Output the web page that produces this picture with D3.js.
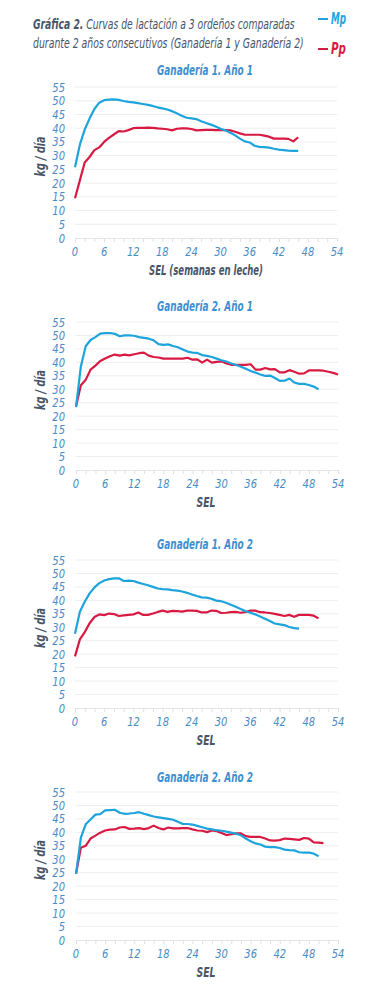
<!DOCTYPE html>
<html>
<head>
<meta charset="utf-8">
<script src="https://cdn.jsdelivr.net/npm/d3@7"></script>
<style>
  body { margin: 0; background: #fff; }
  svg text { font-family: 'DejaVu Sans Condensed', 'Liberation Sans', sans-serif; font-style: italic; }
</style>
</head>
<body>
<svg id="chart" width="376" height="1000"></svg>
<script>
// weekly milk yield (kg/día), week 0 onward
const g1a1Mp = [25.8, 34, 39.5, 43.5, 47, 49.3, 50.2, 50.4, 50.5, 50.3, 49.9, 49.6, 49.4, 49.1, 48.8, 48.5, 48.1, 47.6, 47.2, 46.8, 46.2, 45.4, 44.5, 43.8, 43.6, 43.3, 42.5, 41.9, 41.3, 40.6, 39.8, 39.2, 38.3, 37.4, 36.2, 35.2, 34.8, 33.6, 33.2, 33.1, 32.9, 32.5, 32.2, 32.0, 31.8, 31.7, 31.7];
const g1a1Pp = [14.5, 21, 27.5, 29.5, 32, 33, 35, 36.5, 37.7, 38.9, 38.8, 39.3, 40, 40.1, 40.1, 40.2, 40.1, 39.9, 39.8, 39.6, 39.2, 39.8, 39.9, 39.9, 39.7, 39.2, 39.3, 39.4, 39.4, 39.3, 39.3, 39.3, 39.2, 38.7, 38.1, 37.6, 37.6, 37.6, 37.6, 37.3, 36.9, 36.2, 36.2, 36.2, 36.1, 35.2, 36.7];

const g2a1Mp = [23.4, 38.5, 46, 48.3, 49.4, 50.7, 50.9, 50.9, 50.6, 49.7, 50, 50, 49.9, 49.4, 49.1, 48.8, 48.2, 46.8, 46.5, 46.7, 46.1, 45.6, 44.8, 44, 43.6, 43.5, 42.7, 42.4, 42, 41.4, 40.8, 40.3, 39.6, 39, 38.4, 37.6, 36.8, 36.2, 35.5, 35, 35.1, 34.2, 33.1, 33.2, 34, 32.5, 32, 32, 31.6, 31, 30];
const g2a1Pp = [23.6, 31.5, 33.5, 37.3, 38.8, 40.5, 41.4, 42.3, 42.9, 42.5, 42.9, 42.6, 43, 43.4, 43.6, 42.5, 42, 41.8, 41.4, 41.4, 41.4, 41.4, 41.4, 41.7, 41, 41.1, 39.9, 41, 39.9, 40.2, 40.4, 39.6, 39.1, 39.1, 39.1, 39.1, 39.3, 37.3, 37.3, 37.9, 37.4, 37.5, 36.3, 36.3, 37.1, 36.5, 35.8, 35.9, 37, 37, 37, 36.9, 36.5, 36.1, 35.5];

const g1a2Mp = [27.6, 35.8, 39.5, 42.6, 44.8, 46.4, 47.4, 47.9, 48.2, 48.2, 47.2, 47.3, 47.2, 46.6, 46.1, 45.6, 45, 44.4, 44.2, 44.1, 43.8, 43.6, 43.3, 42.8, 42.2, 41.6, 41.1, 41, 40.6, 39.9, 39.7, 39.1, 38.4, 37.6, 36.8, 36, 35.4, 34.8, 34, 33.2, 32.3, 31.4, 31.1, 30.8, 30.1, 29.7, 29.5];
const g1a2Pp = [19.2, 25.5, 28.2, 31.5, 33.8, 34.8, 34.5, 35.1, 34.9, 34.2, 34.4, 34.6, 34.8, 35.5, 34.6, 34.6, 35.1, 35.7, 36.2, 35.7, 36.1, 36, 35.8, 36.2, 36.2, 36.1, 35.5, 35.5, 36.2, 36.1, 35.3, 35.4, 35.6, 35.7, 35.4, 35.6, 36.2, 36.2, 35.6, 35.5, 35.3, 35, 34.6, 34.2, 34.6, 33.9, 34.6, 34.6, 34.6, 34.3, 33.3];

const g2a2Mp = [24.6, 38, 43, 44.8, 46.6, 46.8, 48.2, 48.3, 48.4, 47.3, 46.9, 47, 47.2, 47.5, 46.9, 46.4, 45.9, 45.6, 45.3, 45, 44.7, 43.9, 43.1, 43.1, 42.9, 42.4, 41.9, 41.4, 41.1, 40.8, 40.6, 40.3, 39.9, 39.5, 38.9, 37.7, 36.7, 35.9, 35.5, 34.7, 34.5, 34.5, 34.2, 33.6, 33.4, 33.3, 32.6, 32.5, 32.5, 32.1, 31.1];
const g2a2Pp = [24.6, 34.3, 35, 37.7, 38.8, 39.9, 40.7, 41, 41.1, 41.8, 42, 41.3, 41.4, 41.6, 41.2, 41.6, 42.5, 41.6, 41.1, 41.8, 41.5, 41.5, 41.6, 41.6, 41.1, 40.7, 40.6, 40.1, 40.7, 40.4, 39.8, 39, 39.3, 39.6, 39.6, 38.6, 38.3, 38.3, 38.3, 37.7, 37, 36.9, 37.1, 37.7, 37.6, 37.4, 37.2, 37.9, 37.7, 36.3, 36.2, 36];

const xTicks = [0, 6, 12, 18, 24, 30, 36, 42, 48, 54];
const yTicks = [0, 5, 10, 15, 20, 25, 30, 35, 40, 45, 50, 55];
const panelTitles = ["Ganadería 1. Año 1", "Ganadería 2. Año 1", "Ganadería 1. Año 2", "Ganadería 2. Año 2"];
const xTitles = ["SEL (semanas en leche)", "SEL", "SEL", "SEL"];

const blue = "#1ea4dc", red = "#d81a42";
const textDark = "#46556a", tickBlue = "#4a8cc6", titleBlue = "#3d8fd0";

const svg = d3.select("#chart");

// squeeze a text horizontally so it spans w px, like the condensed face of the figure
function squeeze(t, w, x, y, rot) {
    const len = t.node().getComputedTextLength();
    const k = Math.min(1, w / len);
    t.attr("x", 0).attr("y", 0)
        .attr("transform", `translate(${x},${y})${rot ? ` rotate(${rot})` : ""} scale(${k.toFixed(3)},1)`);
    return t;
}

// header
const head1 = svg.append("text").attr("font-size", 13.5).attr("fill", textDark);
head1.append("tspan").attr("font-weight", "bold").text("Gráfica 2.");
head1.append("tspan").text(" Curvas de lactación a 3 ordeños comparadas");
squeeze(head1, 262, 33, 29);
squeeze(svg.append("text").attr("font-size", 13.5).attr("fill", textDark)
    .text("durante 2 años consecutivos (Ganadería 1 y Ganadería 2)"), 271, 33, 48);

// legend
[["Mp", blue, 19], ["Pp", red, 49]].forEach(([name, col, y]) => {
    svg.append("line").attr("x1", 318).attr("x2", 328).attr("y1", y).attr("y2", y)
        .attr("stroke", col).attr("stroke-width", 2);
    squeeze(svg.append("text").attr("font-size", 15).attr("font-weight", "bold")
        .attr("fill", col).text(name), 15, 331, y + 5);
});

const panels = [
    { mp: g1a1Mp, pp: g1a1Pp, top: 87, bottom: 238, x0: 75, x1: 337, titleY: 75 },
    { mp: g2a1Mp, pp: g2a1Pp, top: 322, bottom: 470, x0: 76, x1: 338, titleY: 311 },
    { mp: g1a2Mp, pp: g1a2Pp, top: 560, bottom: 708, x0: 75, x1: 338, titleY: 549 },
    { mp: g2a2Mp, pp: g2a2Pp, top: 792, bottom: 940, x0: 76, x1: 338, titleY: 782 }
];

panels.forEach((p, i) => {
    const x = d3.scaleLinear().domain([0, 54]).range([p.x0, p.x1]);
    const y = d3.scaleLinear().domain([0, 55]).range([p.bottom, p.top]);
    const g = svg.append("g");

    // gridlines
    g.selectAll(".grid").data(yTicks.slice(1)).enter().append("line")
        .attr("x1", p.x0).attr("x2", p.x1)
        .attr("y1", d => y(d)).attr("y2", d => y(d))
        .attr("stroke", "#eeeeee").attr("stroke-width", 1);

    // x axis with ticks every 2 weeks
    const xAxis = g.append("g").attr("transform", `translate(0,${p.bottom})`)
        .call(d3.axisBottom(x).tickValues(d3.range(0, 55, 2)).tickSize(4).tickFormat(""));
    xAxis.select(".domain").attr("stroke", "#e4e4e4");
    xAxis.selectAll(".tick line").attr("stroke", "#e0e0e0");

    g.selectAll(".xl").data(xTicks).enter().append("text")
        .attr("font-size", 13).attr("fill", tickBlue).attr("text-anchor", "middle")
        .attr("transform", d => `translate(${x(d)},${p.bottom + 18}) scale(0.85,1)`)
        .text(d => d);

    g.selectAll(".yl").data(yTicks).enter().append("text")
        .attr("font-size", 13).attr("fill", tickBlue).attr("text-anchor", "end")
        .attr("transform", d => `translate(65,${y(d) + 4.5}) scale(0.85,1)`)
        .text(d => d);

    // titles
    squeeze(g.append("text").attr("text-anchor", "middle").attr("font-size", 14.5)
        .attr("font-weight", "bold").attr("fill", titleBlue).text(panelTitles[i]),
        96, 205, p.titleY);
    squeeze(g.append("text").attr("text-anchor", "middle").attr("font-size", 14.5)
        .attr("font-weight", "bold").attr("fill", textDark).text(xTitles[i]),
        i === 0 ? 114 : 19, 206, p.bottom + 37);
    squeeze(g.append("text").attr("text-anchor", "middle").attr("font-size", 14.5)
        .attr("font-weight", "bold").attr("fill", textDark).text("kg / día"),
        40, 45, (p.top + p.bottom) / 2 - 6, -90);

    const line = d3.line().x((d, k) => x(k)).y(d => y(d));
    g.append("path").datum(p.pp).attr("d", line)
        .attr("fill", "none").attr("stroke", red).attr("stroke-width", 2.2).attr("stroke-linejoin", "round");
    g.append("path").datum(p.mp).attr("d", line)
        .attr("fill", "none").attr("stroke", blue).attr("stroke-width", 2.2).attr("stroke-linejoin", "round");
});
</script>
</body>
</html>
